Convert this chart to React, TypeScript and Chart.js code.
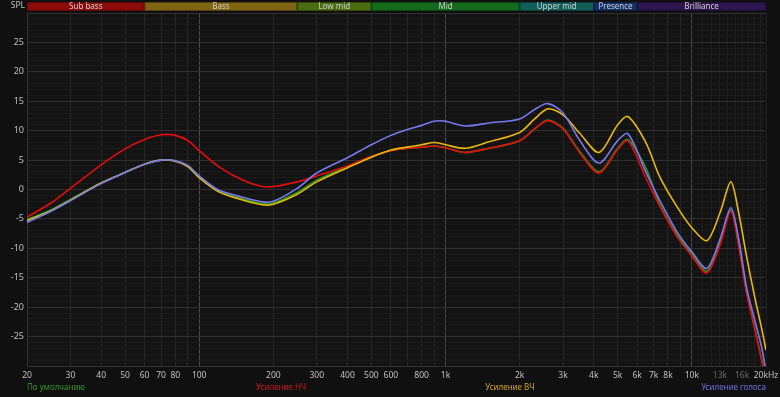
import React, { useEffect, useRef } from "react";
import { Chart, registerables } from "chart.js";

Chart.register(...registerables);

const freqs = [20, 25, 30, 40, 50, 60, 70, 80, 90, 100, 120, 150, 180, 200, 250, 300, 400, 500, 600, 700, 800, 900, 1000, 1200, 1500, 2000, 2300, 2600, 3000, 3500, 4200, 5000, 5500, 6500, 7400, 8700, 10000, 11500, 13000, 14400, 15500, 16700, 18000, 19200, 20000];

const defaultSeries = [-5.1, -3.5, -1.7, 1.1, 2.9, 4.3, 5.0, 4.9, 4.0, 2.1, -0.3, -1.6, -2.4, -2.3, -0.5, 1.6, 3.9, 5.6, 6.6, 7.0, 7.2, 7.4, 7.1, 6.3, 7.0, 8.3, 10.3, 11.8, 10.4, 6.5, 3.0, 7.0, 8.5, 3.7, -2.5, -7.7, -11.0, -13.9, -9.0, -3.5, -9.0, -17.5, -23.7, -28.8, -31.8];
const bassSeries = [-4.7, -2.3, 0.2, 4.2, 6.9, 8.5, 9.3, 9.2, 8.3, 6.6, 3.9, 1.6, 0.5, 0.5, 1.3, 2.3, 4.0, 5.6, 6.6, 7.0, 7.2, 7.4, 7.1, 6.3, 7.0, 8.3, 10.3, 11.7, 10.3, 6.3, 2.8, 6.8, 8.3, 2.0, -2.8, -8.0, -11.3, -14.2, -9.5, -3.7, -9.7, -17.7, -23.6, -29.0, -32.0];
const trebleSeries = [-5.3, -3.6, -1.8, 1.1, 2.9, 4.3, 5.0, 4.8, 3.9, 2.0, -0.4, -1.8, -2.6, -2.5, -0.8, 1.3, 3.7, 5.5, 6.7, 7.2, 7.6, 8.0, 7.6, 7.0, 8.1, 9.7, 12.0, 13.7, 12.7, 9.6, 6.3, 11.0, 12.4, 8.0, 2.2, -2.9, -6.5, -8.7, -4.0, 1.3, -4.0, -11.5, -18.3, -23.6, -27.3];
const voiceSeries = [-5.6, -3.7, -1.9, 1.0, 2.9, 4.3, 5.0, 4.9, 4.1, 2.3, -0.1, -1.3, -2.1, -2.0, 0.2, 2.8, 5.4, 7.6, 9.2, 10.2, 10.9, 11.6, 11.6, 10.8, 11.3, 12.0, 13.6, 14.6, 13.0, 8.4, 4.5, 8.3, 9.5, 3.0, -1.8, -7.2, -10.6, -13.4, -8.5, -3.1, -8.5, -16.8, -22.2, -26.8, -31.0];

const seriesNames = ["По умолчанию", "Усиление НЧ", "Усиление ВЧ", "Усиление голоса"];
const seriesColors = ["#1f9a1f", "#e60c0c", "#e8b810", "#7878f0"];
const legendColors = ["#2a9a2a", "#d01515", "#d8a415", "#7070e0"];

const bandNames = ["Sub bass", "Bass", "Low mid", "Mid", "Upper mid", "Presence", "Brilliance"];
const bandEdges = [20, 60, 250, 500, 2000, 4000, 6000, 20000];
const bandColors = ["#8c0c0c", "#7f6512", "#4c6e12", "#136b1b", "#125e5a", "#13306a", "#2e1550"];

const xGrid = [20, 30, 40, 50, 60, 70, 80, 90, 100, 200, 300, 400, 500, 600, 700, 800, 900, 1000, 2000, 3000, 4000, 5000, 6000, 7000, 8000, 9000, 10000, 11000, 12000, 13000, 14000, 15000, 16000, 17000, 18000, 19000, 20000];
const xLabelValues = [20, 30, 40, 50, 60, 70, 80, 100, 200, 300, 400, 500, 600, 800, 1000, 2000, 3000, 4000, 5000, 6000, 7000, 8000, 10000, 13000, 16000, 20000];
const xLabelTexts = ["20", "30", "40", "50", "60", "70", "80", "100", "200", "300", "400", "500", "600", "800", "1k", "2k", "3k", "4k", "5k", "6k", "7k", "8k", "10k", "13k", "16k", "20kHz"];
const dimLabels = ["13k", "16k"];
const yLabelValues = [25, 20, 15, 10, 5, 0, -5, -10, -15, -20, -25];

const FONT = '"Noto Sans", "DejaVu Sans", sans-serif';

const decorPlugin = {
  id: "decor",
  beforeDraw(chart: any) {
    const { ctx, chartArea: a, width, height } = chart;
    ctx.save();
    ctx.fillStyle = "#101010";
    ctx.fillRect(0, 0, width, height);
    ctx.fillStyle = "#131313";
    ctx.fillRect(a.left, a.top, a.right - a.left, a.bottom - a.top);
    ctx.restore();
  },
  afterDraw(chart: any) {
    const { ctx, chartArea: a } = chart;
    const xs = chart.scales.x;
    const ys = chart.scales.y;
    ctx.save();
    const bTop = 2;
    const bH = 9;
    ctx.font = `8px ${FONT}`;
    ctx.textAlign = "center";
    ctx.textBaseline = "middle";
    for (let i = 0; i < bandNames.length; i++) {
      const x0 = xs.getPixelForValue(bandEdges[i]);
      const x1 = xs.getPixelForValue(bandEdges[i + 1]);
      ctx.fillStyle = bandColors[i];
      ctx.fillRect(x0, bTop, x1 - x0, bH);
      ctx.strokeStyle = "rgba(0,0,0,0.35)";
      ctx.lineWidth = 1;
      ctx.strokeRect(x0 + 0.5, bTop + 0.5, x1 - x0 - 1, bH - 1);
      ctx.fillStyle = "#cfcfcf";
      ctx.fillText(bandNames[i], (x0 + x1) / 2, bTop + bH / 2 + 0.5);
    }
    ctx.font = `8.5px ${FONT}`;
    ctx.textAlign = "right";
    ctx.fillStyle = "#c0c0c0";
    ctx.fillText("SPL", a.left - 2, 6);
    ctx.font = `9px ${FONT}`;
    for (const v of yLabelValues) {
      ctx.fillText(String(v), a.left - 3, ys.getPixelForValue(v));
    }
    ctx.font = `8.5px ${FONT}`;
    ctx.textAlign = "center";
    for (let i = 0; i < xLabelValues.length; i++) {
      const t = xLabelTexts[i];
      ctx.fillStyle = dimLabels.includes(t) ? "#6a6a6a" : "#c0c0c0";
      ctx.fillText(t, xs.getPixelForValue(xLabelValues[i]), a.bottom + 10);
    }
    ctx.font = `8px ${FONT}`;
    const ly = a.bottom + 22;
    const w = a.right - a.left;
    for (let i = 0; i < seriesNames.length; i++) {
      ctx.fillStyle = legendColors[i];
      if (i === seriesNames.length - 1) {
        ctx.textAlign = "right";
        ctx.fillText(seriesNames[i], a.right, ly);
      } else {
        ctx.textAlign = "left";
        ctx.fillText(seriesNames[i], a.left + i * w * 0.31, ly);
      }
    }
    ctx.restore();
  },
};

export default function App() {
  const ref = useRef<HTMLCanvasElement | null>(null);
  useEffect(() => {
    document.body.style.margin = "0";
    document.body.style.background = "#101010";
    const series = [defaultSeries, bassSeries, trebleSeries, voiceSeries];
    const chart = new Chart(ref.current as HTMLCanvasElement, {
      type: "line",
      data: {
        datasets: series.map((s, i) => ({
          label: seriesNames[i],
          data: freqs.map((f, j) => ({ x: f, y: s[j] })),
          borderColor: seriesColors[i],
          borderWidth: 1.6,
          pointRadius: 0,
          fill: false,
          tension: 0.3,
          order: 4 - i,
        })),
      },
      options: {
        responsive: false,
        animation: false,
        layout: { padding: { left: 27, right: 14, top: 13, bottom: 31 } },
        plugins: { legend: { display: false }, tooltip: { enabled: false } },
        scales: {
          x: {
            type: "logarithmic",
            min: 20,
            max: 20000,
            afterBuildTicks: (scale: any) => {
              scale.ticks = xGrid.map((v) => ({ value: v }));
            },
            ticks: { display: false },
            grid: {
              drawTicks: false,
              color: (c: any) => {
                const v = c.tick ? c.tick.value : 0;
                if (v === 100 || v === 1000 || v === 10000) return "#4a4a4a";
                if (v > 10000) return "#1f1f1f";
                return "#272727";
              },
              lineWidth: 1,
            },
            border: { display: true, color: "#333" },
          },
          y: {
            type: "linear",
            min: -30,
            max: 30,
            afterBuildTicks: (scale: any) => {
              const t = [];
              for (let v = -30; v <= 30; v++) t.push({ value: v });
              scale.ticks = t;
            },
            ticks: { display: false },
            grid: {
              drawTicks: false,
              color: (c: any) => {
                const v = c.tick ? c.tick.value : 0;
                return v % 5 === 0 ? "#303030" : "#1b1b1b";
              },
            },
            border: { display: true, color: "#333" },
          },
        },
      },
      plugins: [decorPlugin],
    } as any);
    return () => chart.destroy();
  }, []);
  return <canvas ref={ref} width={780} height={397} style={{ display: "block" }} />;
}
